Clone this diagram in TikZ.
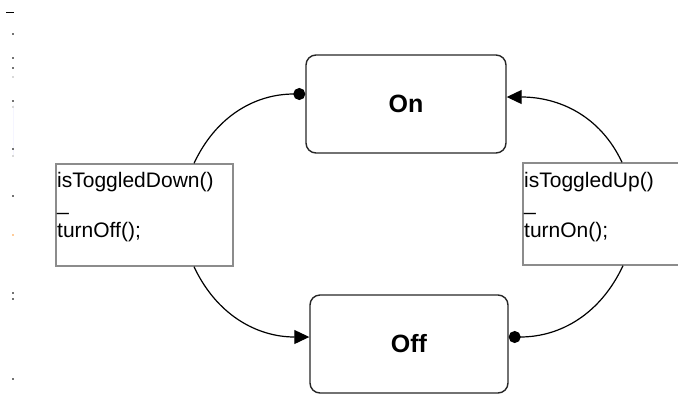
\documentclass[tikz,border=0pt]{standalone}
\usepackage{fontspec}
\setmainfont{Liberation Sans}
\usetikzlibrary{arrows.meta}
\begin{document}
\begin{tikzpicture}[x=1bp,y=-1bp,
  state/.style={draw=black!85,line width=1.4bp,rounded corners=10bp,minimum width=200bp,minimum height=98bp,inner sep=0pt,font=\fontsize{25bp}{28bp}\selectfont\bfseries},
  guard/.style={draw=black!45,line width=1.3bp,minimum width=177bp,minimum height=102bp,inner sep=0pt},
  gtext/.style={anchor=base west,inner sep=0pt,font=\fontsize{21bp}{25bp}\selectfont},
  conn/.style={line width=1.2bp,black},
  tri/.style={-{Triangle[length=15bp,width=14bp]}},
  dot/.style={-{Circle[length=12bp,width=12bp]}},
  mdot/.style={fill=black!55,draw=none}]
\useasboundingbox (0,0) rectangle (678,393);
\clip (0,0) rectangle (678,393);
% margin marks
\draw[line width=1bp] (6,12) -- (14,12);
\draw[line width=1bp,color=blue!4] (13,105) -- (13,155);
\foreach \yy in {33,57,67,100,148,195,292,298,378}
  \fill[mdot] (12,\yy) rectangle (14,\yy+2);
\foreach \yy in {76,106,155}
  \fill[black!15] (12,\yy) rectangle (14,\yy+2);
\fill[orange!40] (12,234) rectangle (14,236);
% states
\node[state] (on) at (406,104) {On};
\node[state,minimum width=198bp] (off) at (409,344) {Off};
% guard boxes
\node[guard] (lbox) at (144.5,215) {};
\node[guard] (rbox) at (611.5,214) {};
\node[gtext] (l1) at (57,187) {isToggledDown()};
\node[gtext] (l2) at (57,210) {\_};
\node[gtext] (l3) at (57,237) {turnOff();};
\node[gtext] (r1) at (524,187) {isToggledUp()};
\node[gtext] (r2) at (524,210) {\_};
\node[gtext] (r3) at (524,237) {turnOn();};
% connectors
\draw[conn,dot] ([xshift=49.5bp]lbox.north) to[out=65,in=180] ([yshift=10bp]on.west);
\draw[conn,tri] ([xshift=10.5bp]rbox.north) to[out=115,in=0] ([yshift=7bp]on.east);
\draw[conn,tri] ([xshift=49.5bp]lbox.south) to[out=-65,in=180] ([yshift=7bp]off.west);
\draw[conn,dot] ([xshift=11.5bp]rbox.south) to[out=-115,in=0] ([yshift=7bp]off.east);
\end{tikzpicture}
\end{document}
